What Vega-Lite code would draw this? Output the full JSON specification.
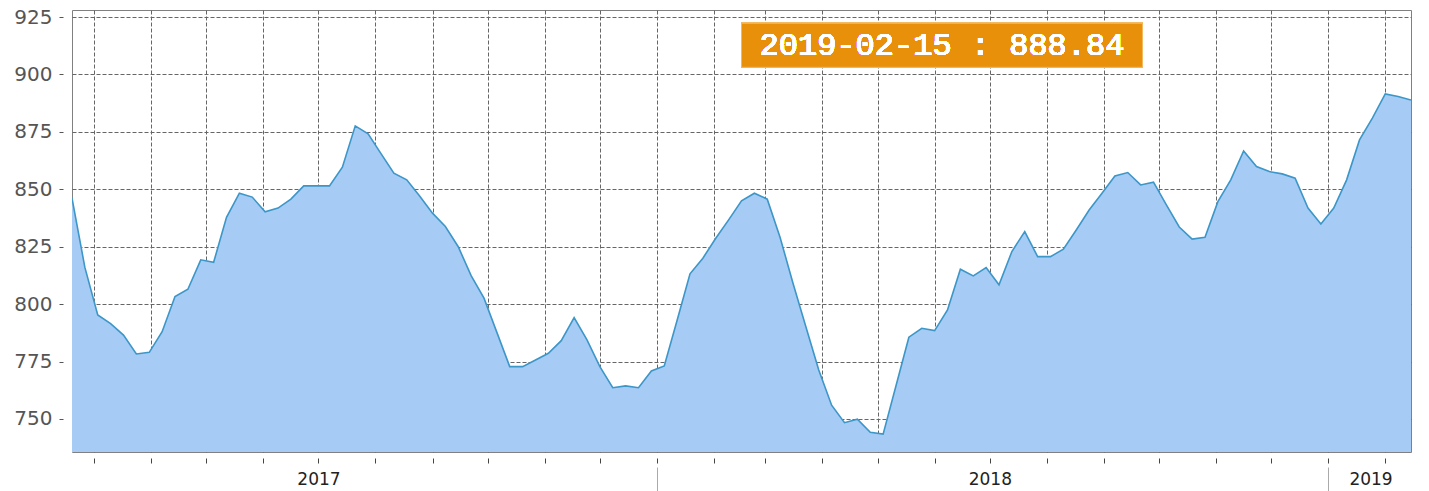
{
  "$schema": "https://vega.github.io/schema/vega-lite/v6.json",
  "width": 1339,
  "height": 442,
  "autosize": "none",
  "padding": {"left": 72, "top": 10, "right": 18, "bottom": 39},
  "background": "white",
  "config": {"view": {"stroke": "#808080", "strokeWidth": 1}, "font": "DejaVu Sans"},
  "data": {"values": [
    {"date": "2017-02-17", "value": 846.1},
    {"date": "2017-02-24", "value": 816.0},
    {"date": "2017-03-03", "value": 795.3},
    {"date": "2017-03-10", "value": 791.5},
    {"date": "2017-03-17", "value": 786.5},
    {"date": "2017-03-24", "value": 778.3},
    {"date": "2017-03-31", "value": 779.0},
    {"date": "2017-04-07", "value": 788.0},
    {"date": "2017-04-14", "value": 803.3},
    {"date": "2017-04-21", "value": 806.5},
    {"date": "2017-04-28", "value": 819.3},
    {"date": "2017-05-05", "value": 818.2},
    {"date": "2017-05-12", "value": 837.8},
    {"date": "2017-05-19", "value": 848.3},
    {"date": "2017-05-26", "value": 846.6},
    {"date": "2017-06-02", "value": 840.2},
    {"date": "2017-06-09", "value": 841.8},
    {"date": "2017-06-16", "value": 845.7},
    {"date": "2017-06-23", "value": 851.5},
    {"date": "2017-06-30", "value": 851.5},
    {"date": "2017-07-07", "value": 851.5},
    {"date": "2017-07-14", "value": 859.6},
    {"date": "2017-07-21", "value": 877.6},
    {"date": "2017-07-28", "value": 874.1},
    {"date": "2017-08-04", "value": 865.5},
    {"date": "2017-08-11", "value": 857.0},
    {"date": "2017-08-18", "value": 854.1},
    {"date": "2017-08-25", "value": 847.1},
    {"date": "2017-09-01", "value": 839.6},
    {"date": "2017-09-08", "value": 833.8},
    {"date": "2017-09-15", "value": 825.0},
    {"date": "2017-09-22", "value": 812.4},
    {"date": "2017-09-29", "value": 802.6},
    {"date": "2017-10-06", "value": 787.7},
    {"date": "2017-10-13", "value": 772.8},
    {"date": "2017-10-20", "value": 772.8},
    {"date": "2017-10-27", "value": 775.7},
    {"date": "2017-11-03", "value": 778.6},
    {"date": "2017-11-10", "value": 784.1},
    {"date": "2017-11-17", "value": 794.1},
    {"date": "2017-11-24", "value": 784.4},
    {"date": "2017-12-01", "value": 772.8},
    {"date": "2017-12-08", "value": 763.6},
    {"date": "2017-12-15", "value": 764.4},
    {"date": "2017-12-22", "value": 763.6},
    {"date": "2017-12-29", "value": 770.9},
    {"date": "2018-01-05", "value": 773.1},
    {"date": "2018-01-12", "value": 793.0},
    {"date": "2018-01-19", "value": 813.2},
    {"date": "2018-01-26", "value": 820.0},
    {"date": "2018-02-02", "value": 828.7},
    {"date": "2018-02-09", "value": 836.7},
    {"date": "2018-02-16", "value": 845.0},
    {"date": "2018-02-23", "value": 848.3},
    {"date": "2018-03-02", "value": 845.7},
    {"date": "2018-03-09", "value": 829.0},
    {"date": "2018-03-16", "value": 809.1},
    {"date": "2018-03-23", "value": 790.2},
    {"date": "2018-03-30", "value": 771.3},
    {"date": "2018-04-06", "value": 756.0},
    {"date": "2018-04-13", "value": 748.4},
    {"date": "2018-04-20", "value": 749.9},
    {"date": "2018-04-27", "value": 744.2},
    {"date": "2018-05-04", "value": 743.4},
    {"date": "2018-05-11", "value": 764.5},
    {"date": "2018-05-18", "value": 785.6},
    {"date": "2018-05-25", "value": 789.5},
    {"date": "2018-06-01", "value": 788.5},
    {"date": "2018-06-08", "value": 797.5},
    {"date": "2018-06-15", "value": 815.2},
    {"date": "2018-06-22", "value": 812.3},
    {"date": "2018-06-29", "value": 815.9},
    {"date": "2018-07-06", "value": 808.4},
    {"date": "2018-07-13", "value": 822.9},
    {"date": "2018-07-20", "value": 831.6},
    {"date": "2018-07-27", "value": 820.7},
    {"date": "2018-08-03", "value": 820.7},
    {"date": "2018-08-10", "value": 823.9},
    {"date": "2018-08-17", "value": 832.3},
    {"date": "2018-08-24", "value": 841.0},
    {"date": "2018-08-31", "value": 848.3},
    {"date": "2018-09-07", "value": 855.8},
    {"date": "2018-09-14", "value": 857.3},
    {"date": "2018-09-21", "value": 851.9},
    {"date": "2018-09-28", "value": 853.1},
    {"date": "2018-10-05", "value": 843.2},
    {"date": "2018-10-12", "value": 833.6},
    {"date": "2018-10-19", "value": 828.3},
    {"date": "2018-10-26", "value": 829.1},
    {"date": "2018-11-02", "value": 844.6},
    {"date": "2018-11-09", "value": 854.1},
    {"date": "2018-11-16", "value": 866.7},
    {"date": "2018-11-23", "value": 859.9},
    {"date": "2018-11-30", "value": 857.7},
    {"date": "2018-12-07", "value": 856.7},
    {"date": "2018-12-14", "value": 854.8},
    {"date": "2018-12-21", "value": 841.8},
    {"date": "2018-12-28", "value": 834.9},
    {"date": "2019-01-04", "value": 841.8},
    {"date": "2019-01-11", "value": 854.1},
    {"date": "2019-01-18", "value": 871.5},
    {"date": "2019-01-25", "value": 881.0},
    {"date": "2019-02-01", "value": 891.5},
    {"date": "2019-02-08", "value": 890.4},
    {"date": "2019-02-15", "value": 888.84}
  ]},
  "layer": [
    {
      "mark": {"type": "area", "color": "#A6CBF4", "opacity": 1, "clip": true},
      "encoding": {
        "x": {
          "field": "date", "type": "temporal",
          "scale": {"type": "utc", "nice": false,
            "domain": [{"year": 2017, "month": 2, "date": 17, "utc": true}, {"year": 2019, "month": 2, "date": 15, "utc": true}]},
          "axis": {"orient": "bottom", "zindex": 0, "title": null, "grid": true, "gridColor": "#666666", "gridDash": [4, 2], "gridWidth": 1,
            "domain": false, "labels": false, "ticks": true, "tickSize": 12, "tickDash": [0, 6, 5, 20], "tickColor": "#444444", "tickWidth": 1,
            "tickCount": {"interval": "month", "step": 1}}
        },
        "y": {
          "field": "value", "type": "quantitative",
          "scale": {"domain": [735.63, 928.05], "nice": false, "zero": false},
          "axis": {"orient": "left", "zindex": 0, "title": null, "values": [750, 775, 800, 825, 850, 875, 900, 925],
            "grid": true, "gridColor": "#666666", "gridDash": [4, 2], "gridWidth": 1, "domain": false,
            "ticks": true, "tickSize": 13, "tickDash": [0, 9, 4, 20], "tickColor": "#555555", "tickWidth": 1,
            "labelFontSize": 20, "labelColor": "#555555", "labelPadding": 7, "labelFont": "DejaVu Sans"}
        }
      }
    },
    {
      "mark": {"type": "line", "color": "#3C96C8", "strokeWidth": 1.6, "clip": true},
      "encoding": {
        "x": {"field": "date", "type": "temporal",
          "axis": {"orient": "bottom", "zindex": 0, "title": null, "grid": false, "domain": false, "labels": false,
            "values": [{"year": 2018, "month": 1, "date": 1, "utc": true}, {"year": 2019, "month": 1, "date": 1, "utc": true}],
            "ticks": true, "tickSize": 39, "tickDash": [0, 15, 30], "tickColor": "#AAAAAA", "tickWidth": 1}},
        "y": {"field": "value", "type": "quantitative", "axis": null}
      }
    },
    {
      "mark": {"type": "point", "opacity": 0},
      "encoding": {
        "x": {"field": "date", "type": "temporal",
          "axis": {"orient": "bottom", "zindex": 0, "title": null, "grid": false, "domain": false, "ticks": false, "tickSize": 0,
            "values": [{"year": 2017, "month": 7, "date": 1, "utc": true}, {"year": 2018, "month": 7, "date": 1, "utc": true}, {"year": 2019, "month": 1, "date": 24, "utc": true}],
            "format": "%Y", "labelFontSize": 17, "labelColor": "#222222", "labelPadding": 19, "labelFont": "DejaVu Sans", "labelOverlap": false, "labelFlush": false}},
        "y": {"field": "value", "type": "quantitative", "axis": null}
      }
    },
    {
      "mark": {"type": "rect", "color": "#E8900A", "stroke": "#F3B860", "strokeWidth": 1, "opacity": 1},
      "encoding": {
        "x": {"datum": {"year": 2018, "month": 2, "date": 16, "utc": true}, "type": "temporal", "axis": null},
        "x2": {"datum": {"year": 2018, "month": 9, "date": 22, "utc": true}},
        "y": {"datum": 922.26, "type": "quantitative", "axis": null},
        "y2": {"datum": 903.1}
      }
    },
    {
      "mark": {"type": "text", "color": "white", "font": "Liberation Mono", "fontSize": 32, "fontWeight": "normal", "align": "center", "baseline": "middle", "text": "2019-02-15 : 888.84"},
      "encoding": {
        "x": {"datum": {"year": 2018, "month": 6, "date": 5, "utc": true}, "type": "temporal", "axis": null},
        "y": {"datum": 912.7, "type": "quantitative", "axis": null}
      }
    }
  ],
  "resolve": {"axis": {"x": "independent", "y": "independent"}}
}
